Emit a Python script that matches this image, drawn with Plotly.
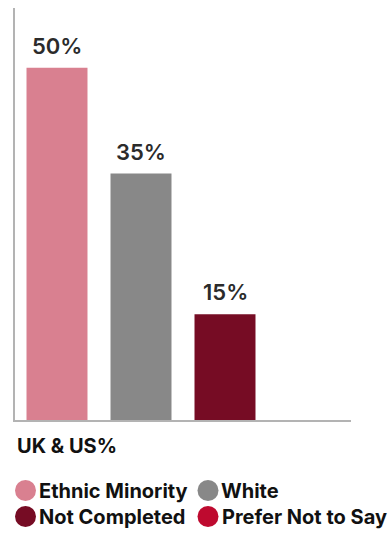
import plotly.graph_objects as go

# Share of respondents by ethnicity group, UK & US combined
categories = ["Ethnic Minority", "White", "Not Completed", "Prefer Not to Say"]
values = [50, 35, 15, 0]
colors = ["#D98090", "#888888", "#760C24", "#BE0A2F"]
axis_title = "UK & US%"

FONT = "Inter, Roboto, sans-serif"

W, H = 389, 534
M_L, M_R, M_T, M_B = 15, 38, 8, 114
PLOT_W = W - M_L - M_R
PLOT_H = H - M_T - M_B


def px_to_paper(px, py):
    """Convert page pixel position to paper coordinates of the plot area."""
    return (px - M_L) / PLOT_W, (H - M_B - py) / PLOT_H


fig = go.Figure()

fig.add_trace(go.Bar(
    x=categories,
    y=values,
    marker=dict(color=colors, line=dict(width=0)),
    showlegend=False,
    hoverinfo="skip",
))

# Value labels above the bars
for cat, v in zip(categories, values):
    if v > 0:
        fig.add_annotation(
            x=cat, y=v, xref="x", yref="y", text=f"{v}%",
            showarrow=False, yanchor="middle", yshift=22,
            font=dict(family=FONT, size=22, color="#2B2B2B", weight=600),
        )

tx, ty = px_to_paper(15, 446)
fig.add_annotation(
    x=tx, y=ty, xref="paper", yref="paper", text=axis_title,
    showarrow=False, xanchor="left", yanchor="middle",
    font=dict(family=FONT, size=20, color="#111111", weight=700),
)

# Legend: two columns of circle swatch + label below the chart
legend_cols = [25.5, 208]
legend_rows = [490.5, 516.5]
radius = 10.5
for i, (name, col) in enumerate(zip(categories, colors)):
    cx = legend_cols[i % 2]
    cy = legend_rows[i // 2]
    x0, y0 = px_to_paper(cx - radius, cy + radius)
    x1, y1 = px_to_paper(cx + radius, cy - radius)
    fig.add_shape(type="circle", xref="paper", yref="paper",
                  x0=x0, y0=y0, x1=x1, y1=y1,
                  fillcolor=col, line=dict(width=0), layer="above")
    lx, ly = px_to_paper(cx + radius + 1, cy)
    fig.add_annotation(
        x=lx, y=ly, xref="paper", yref="paper", text=name,
        showarrow=False, xanchor="left", yanchor="middle",
        font=dict(family=FONT, size=20, color="#111111", weight=700),
    )

fig.update_layout(
    width=W, height=H,
    margin=dict(l=M_L, r=M_R, t=M_T, b=M_B),
    paper_bgcolor="white", plot_bgcolor="white",
    bargap=0.274,
    showlegend=False,
    font=dict(family=FONT),
    xaxis=dict(range=[-0.5, 3.5], showticklabels=False, ticks="",
               showgrid=False, zeroline=False, showline=True,
               linecolor="#B3B3B3", linewidth=2),
    yaxis=dict(range=[0, 58.5], showticklabels=False, ticks="",
               showgrid=False, zeroline=False, showline=True,
               linecolor="#B3B3B3", linewidth=2),
)

fig.write_html("out.html")
